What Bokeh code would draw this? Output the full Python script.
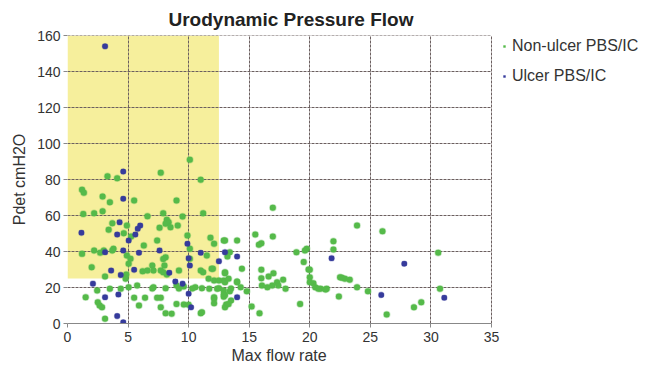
from bokeh.plotting import figure
from bokeh.models import Legend, LegendItem, ColumnDataSource, FixedTicker, Title
from bokeh.embed import file_html
from bokeh.resources import INLINE

# ---------------- data ----------------
nonulcer_x = [3.3, 4.1, 7.7, 10.1, 11.0, 1.2, 1.35, 2.9, 3.5, 5.5, 9.0,
              2.9, 2.2, 1.3, 7.9, 6.6, 9.5, 11.2, 8.2, 8.35, 8.1, 3.7, 4.9, 7.6, 8.5, 9.1,
              3.4, 4.65, 5.25, 9.9, 11.8, 12.9, 7.4, 12.1, 6.3, 3.8, 2.2, 1.2, 3.0, 2.7, 3.7,
              4.9, 5.2, 5.05, 8.1, 10.1, 10.1, 2.0, 3.1, 4.85, 4.8, 6.2, 6.6, 7.7, 7.9, 8.2,
              9.2, 11.0, 11.2, 12.0, 11.65, 12.1, 13.0, 12.9, 7.9, 8.0, 7.0, 7.1, 11.9, 12.5,
              13.0, 13.3,
              2.45, 3.5, 4.4, 5.05, 5.75, 7.1, 8.1, 9.0, 9.6, 10.55, 11.1, 11.7, 12.5, 12.9,
              7.0, 9.2, 10.3, 13.5, 1.5, 2.5, 2.65, 2.85, 5.5, 6.4, 7.4, 7.7, 5.9, 7.7, 8.1,
              9.0, 9.6, 11.0, 12.1, 12.1, 12.9, 13.1, 3.1, 8.6, 10.0, 13.0, 13.5, 13.0,
              16.95, 13.0, 14.0, 15.5, 16.0, 15.8, 16.95, 18.9, 19.75, 19.5, 21.95, 21.95,
              13.4, 13.2, 11.5, 14.4, 13.0, 14.0, 16.0, 16.0, 16.6, 17.0, 17.3, 17.8, 16.9,
              17.4, 18.0, 16.5, 16.05, 20.0, 20.0, 20.3, 20.45, 20.9, 21.4, 20.0, 22.5, 22.9,
              22.4, 19.2, 12.1, 12.9, 13.4, 14.0, 14.3, 14.8, 13.3, 15.2, 15.85, 11.1, 12.35,
              23.9, 26.0, 30.6, 22.65, 23.3, 23.9, 24.8, 30.75, 29.2, 28.6, 26.35, 19.6, 19.9,
              21.3, 20.7]
nonulcer_y = [81.8, 80.7, 83.7, 91.0, 79.8, 74.3, 72.6, 70.5, 67.4, 68.3, 68.3,
              62.4, 61.3, 60.9, 61.3, 59.6, 59.4, 61.3, 57.6, 56.3, 55.4, 55.7, 54.4, 53.2, 53.5, 54.4,
              52.1, 50.2, 48.3, 48.9, 47.6, 46.1, 46.1, 44.3, 43.3, 41.5, 40.6, 38.7, 40.6, 39.3, 40.6,
              37.8, 36.0, 33.2, 36.8, 41.5, 36.0, 31.3, 26.1, 27.2, 24.8, 29.0, 29.4, 29.4, 28.5, 27.2,
              29.4, 29.4, 28.5, 30.4, 24.8, 23.9, 28.5, 23.9, 35.9, 32.2, 32.2, 29.4, 30.4, 23.9,
              22.9, 24.8,
              18.3, 19.3, 19.3, 20.2, 21.1, 20.2, 19.6, 21.1, 20.6, 20.2, 19.6, 19.3, 19.6, 18.3,
              19.4, 19.4, 19.4, 19.4, 14.6, 11.8, 10.0, 9.0, 14.3, 14.3, 14.3, 14.3, 10.0, 9.0, 5.7,
              10.9, 10.5, 5.7, 13.7, 11.3, 14.8, 10.5, 2.6, 5.4, 10.4, 15.9, 12.8, 9.0,
              64.3, 46.1, 46.1, 49.4, 44.6, 43.7, 48.3, 39.6, 41.5, 34.1, 45.7, 41.1,
              39.6, 37.2, 37.8, 30.4, 27.9, 23.3, 29.8, 25.2, 26.1, 27.9, 22.9, 24.3, 21.1,
              21.1, 19.3, 20.2, 21.1, 29.8, 25.7, 22.4, 20.2, 19.3, 19.3, 22.9, 25.7, 24.8,
              15.0, 10.9, 14.6, 16.1, 17.9, 22.9, 20.2, 17.9, 10.9, 9.4, 5.7, 6.3, 19.3,
              54.4, 51.3, 39.3, 25.4, 24.3, 20.2, 17.9, 19.3, 11.8, 9.0, 5.0, 40.6, 30.0,
              18.9, 19.3]

ulcer_x = [3.1, 4.6, 4.6, 4.3, 6.0, 5.8, 1.15, 4.1, 5.6, 5.05, 9.9, 3.1, 4.6, 5.9,
           7.6, 11.0, 13.0, 12.5, 10.1, 10.0, 3.6, 4.4, 5.5, 8.4, 2.1, 8.9, 9.5, 3.1,
           4.2, 10.0, 10.2, 4.1, 4.6, 14.0, 14.0, 21.8, 27.8, 25.9, 31.1]
ulcer_y = [154.0, 84.4, 69.3, 56.3, 54.4, 52.6, 50.4, 49.4, 49.4, 46.1, 44.3, 39.6, 40.6, 39.3,
           40.6, 39.3, 39.6, 34.6, 32.2, 36.3, 29.4, 27.0, 29.8, 28.2, 22.1, 23.3, 22.1, 14.6,
           16.1, 16.5, 9.0, 4.1, 0.7, 37.2, 14.6, 36.3, 33.2, 15.9, 14.3]

series_names = ["Non-ulcer PBS/IC", "Ulcer PBS/IC"]
x_ticks = [0, 5, 10, 15, 20, 25, 30, 35]
y_ticks = [0, 20, 40, 60, 80, 100, 120, 140, 160]
# highlighted region (flow < 12.5, pressure > 25)
zone_x = [0, 12.5]
zone_y = [25, 160]

GREEN = "#55ba4a"
BLUE = "#363b9c"
GRID = "#6b5f5f"
FONT = "Liberation Sans"
TXT = "#333333"

W, H = 644, 369
LEFT, TOP, BOTTOM = 67, 35, 46
PLOT_W = 424                      # pixel width of the 0..35 axis span
x_max = x_ticks[-1]
x_view = x_max * (W - LEFT) / PLOT_W   # frame extends right to hold the legend

p = figure(width=W, height=H, x_range=(0, x_view), y_range=(y_ticks[0], y_ticks[-1]),
           output_backend="svg", toolbar_location=None,
           min_border_left=LEFT, min_border_right=0, min_border_top=TOP, min_border_bottom=BOTTOM)
p.outline_line_color = None
p.background_fill_color = "white"

p.title.text = "Urodynamic Pressure Flow"
p.title.align = "left"
p.title.offset = 101
p.title.standoff = 12
p.title.text_font = FONT
p.title.text_font_size = "19px"
p.title.text_font_style = "bold"
p.title.text_color = "#222222"

p.quad(left=zone_x[0], right=zone_x[1], bottom=zone_y[0], top=zone_y[1],
       fill_color="#f6ef9c", line_color=None, level="image")

# horizontal grid lines, limited to the 0..35 span
gy = y_ticks[1:]
p.segment(x0=[x_ticks[0]] * len(gy), x1=[x_max] * len(gy), y0=gy, y1=gy,
          line_color=GRID, line_dash="3 1", line_width=1, level="underlay")

g = ColumnDataSource(dict(x=nonulcer_x, y=nonulcer_y))
b = ColumnDataSource(dict(x=ulcer_x, y=ulcer_y))
# small square markers (hidden under the dots) that give the legend its glyphs
lg = p.scatter("x", "y", source=g, marker="square", size=4.5, fill_color=GREEN, line_color=None)
lb = p.scatter("x", "y", source=b, marker="square", size=4.5, fill_color=BLUE, line_color=None)
p.scatter("x", "y", source=g, size=6, fill_color=GREEN, line_color=GREEN, line_alpha=0.35, line_width=1.5)
p.scatter("x", "y", source=b, size=5.5, fill_color=BLUE, line_color=BLUE, line_alpha=0.35, line_width=1.2)

for ax in (p.xaxis[0], p.yaxis[0]):
    ax.major_label_text_font = FONT
    ax.major_label_text_font_size = "14px"
    ax.major_label_text_color = TXT
    ax.axis_label_text_font = FONT
    ax.axis_label_text_font_size = "16px"
    ax.axis_label_text_font_style = "normal"
    ax.axis_label_text_color = TXT
    ax.minor_tick_line_color = None
    ax.major_tick_line_color = "#888888"
    ax.major_tick_in = 0
    ax.major_tick_out = 4

p.xaxis.ticker = FixedTicker(ticks=x_ticks)
p.yaxis.ticker = FixedTicker(ticks=y_ticks)
p.xaxis.bounds = (x_ticks[0], x_max)
p.yaxis.axis_label = "Pdet cmH2O"
p.xaxis.axis_line_color = "#888888"
p.yaxis.axis_line_color = None
p.xaxis.major_label_standoff = 4
p.yaxis.major_label_standoff = 3
p.yaxis.axis_label_standoff = 6

# x axis title, centred under the 0..35 span
xlabel = Title(text="Max flow rate", align="left", offset=PLOT_W / 2 - 48, standoff=1,
               text_font=FONT, text_font_size="16px", text_font_style="normal", text_color=TXT)
p.add_layout(xlabel, "below")

p.xgrid.grid_line_color = GRID
p.xgrid.grid_line_dash = "3 1"
p.xgrid.grid_line_width = 1
p.xgrid.ticker = FixedTicker(ticks=x_ticks[1:])
p.ygrid.visible = False

legend = Legend(items=[LegendItem(label=series_names[0], renderers=[lg]),
                       LegendItem(label=series_names[1], renderers=[lb])],
                location=(PLOT_W + 10, H - TOP - BOTTOM - 50))
legend.border_line_color = None
legend.background_fill_alpha = 0
legend.label_text_font = FONT
legend.label_text_font_size = "16px"
legend.label_text_color = TXT
legend.glyph_width = 6
legend.glyph_height = 16
legend.label_height = 16
legend.label_standoff = 5
legend.spacing = 12
legend.margin = 0
legend.padding = 2
p.add_layout(legend)

open("out.html", "w").write(file_html(p, INLINE))
